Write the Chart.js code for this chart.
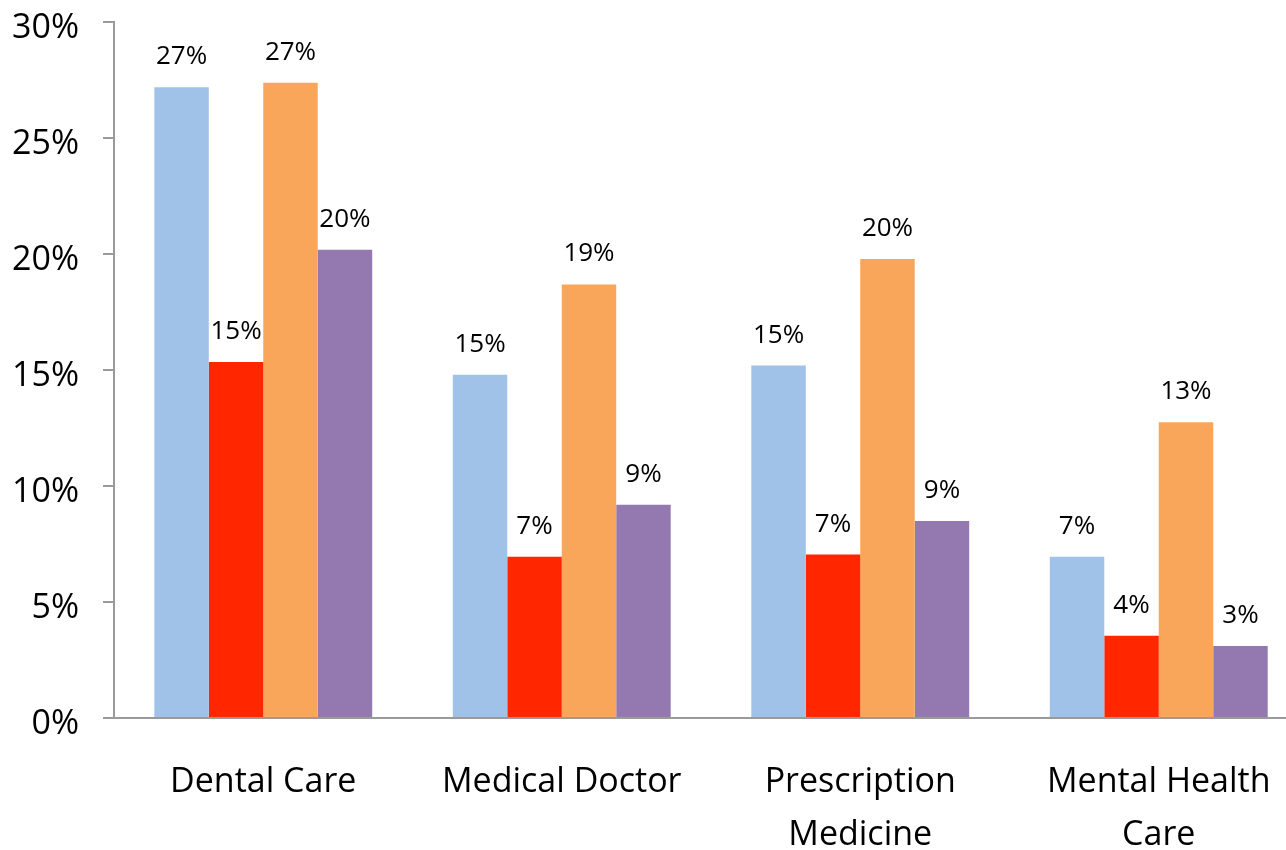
<!DOCTYPE html>
<html>
<head>
<meta charset="utf-8">
<script src="https://cdn.jsdelivr.net/npm/chart.js@4"></script>
<style>
html,body{margin:0;padding:0;background:#fff;overflow:hidden;width:1286px;height:850px;}
#wrap{position:relative;width:1286px;height:850px;overflow:hidden;}
#c{position:absolute;left:0;top:-22px;}
</style>
</head>
<body>
<div id="wrap"><canvas id="c" width="1308" height="872"></canvas></div>
<script>
const categories = [["Dental Care"], ["Medical Doctor"], ["Prescription", "Medicine"], ["Mental Health", "Care"]];
const seriesA = [27.2, 14.8, 15.2, 6.95];
const seriesB = [15.35, 6.95, 7.05, 3.55];
const seriesC = [27.4, 18.7, 19.8, 12.75];
const seriesD = [20.2, 9.2, 8.5, 3.1];
const yTicks = [0, 5, 10, 15, 20, 25, 30];
const colors = ["#A0C2E8", "#FF2600", "#F9A65A", "#9479B0"];
const FONT = "'Open Sans', 'Liberation Sans', sans-serif";

const labelPlugin = {
  id: 'barLabels',
  afterDatasetsDraw(chart) {
    const ctx = chart.ctx;
    ctx.save();
    ctx.font = "26px " + FONT;
    ctx.fillStyle = "#000";
    ctx.textAlign = "center";
    ctx.textBaseline = "alphabetic";
    chart.data.datasets.forEach((ds, i) => {
      chart.getDatasetMeta(i).data.forEach((bar, j) => {
        ctx.fillText(Math.round(ds.data[j]) + "%", bar.x, bar.y - 23);
      });
    });
    ctx.restore();
  }
};

new Chart(document.getElementById('c'), {
  type: 'bar',
  data: {
    labels: categories,
    datasets: [seriesA, seriesB, seriesC, seriesD].map((d, i) => ({
      data: d,
      backgroundColor: colors[i],
      borderWidth: 0,
      barPercentage: 1.0,
      categoryPercentage: 0.73
    }))
  },
  options: {
    responsive: false,
    animation: false,
    layout: { padding: { top: 3, right: 0, left: 0, bottom: 0 } },
    plugins: { legend: { display: false }, tooltip: { enabled: false } },
    scales: {
      x: {
        grid: { display: false },
        border: { color: '#9a9a9a', width: 2 },
        ticks: { font: { family: FONT, size: 34, lineHeight: 1.55 }, color: '#000', padding: 30, maxRotation: 0, autoSkip: false },
        afterFit(s) { s.height = 132; }
      },
      y: {
        min: 0, max: 30,
        afterBuildTicks(s) { s.ticks = yTicks.map(v => ({ value: v })); },
        grid: { drawOnChartArea: false, drawTicks: true, tickLength: 11, color: '#9a9a9a', lineWidth: 2 },
        border: { color: '#9a9a9a', width: 2 },
        ticks: { font: { family: FONT, size: 34 }, color: '#000', padding: 24, labelOffset: 6, callback: v => v + '%' },
        afterFit(s) { s.width = 114; }
      }
    }
  },
  plugins: [labelPlugin]
});
</script>
</body>
</html>
